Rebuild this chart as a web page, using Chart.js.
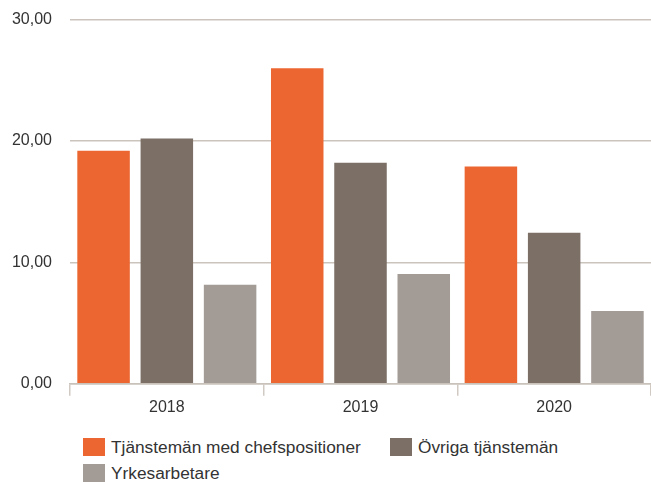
<!DOCTYPE html>
<html>
<head>
<meta charset="utf-8">
<script src="https://cdn.jsdelivr.net/npm/chart.js@4/dist/chart.umd.min.js"></script>
<style>
  body { margin: 0; background: #fff; font-family: "Liberation Sans", Arial, sans-serif; }
  #wrap { position: relative; width: 651px; height: 482px; overflow: hidden; }
  #box { position: absolute; left: 0; top: -8px; width: 651px; height: 429px; }
  #legend { position: absolute; left: 83px; top: 438px; width: 560px; font-size: 17.3px; color: #333; }
  .item { position: absolute; display: flex; align-items: center; white-space: nowrap; height: 18px; }
  .sw { width: 22px; height: 18px; margin-right: 6px; }
</style>
</head>
<body>
<div id="wrap">
  <div id="box"><canvas id="chart"></canvas></div>
  <div id="legend"></div>
</div>
<script>
const years = ["2018", "2019", "2020"];
const seriesNames = ["Tjänstemän med chefspositioner", "Övriga tjänstemän", "Yrkesarbetare"];
const chefer = [19.2, 26.0, 17.9];
const ovriga = [20.2, 18.2, 12.45];
const yrkes = [8.15, 9.05, 6.0];
const colors = ["#EC6631", "#7B6F66", "#A39B96"];

const values = [chefer, ovriga, yrkes];

const datasets = seriesNames.map((name, i) => ({
  label: name,
  data: values[i],
  backgroundColor: colors[i],
  categoryPercentage: 0.98,
  barPercentage: 0.83,
}));

// legend as html, two rows like the original
const legend = document.getElementById("legend");
const spots = [[0, 0], [307, 0], [0, 26]];
seriesNames.forEach((name, i) => {
  const el = document.createElement("div");
  el.className = "item";
  el.style.left = spots[i][0] + "px";
  el.style.top = spots[i][1] + "px";
  el.innerHTML = `<span class="sw" style="background:${colors[i]}"></span><span>${name}</span>`;
  legend.appendChild(el);
});

new Chart(document.getElementById("chart"), {
  type: "bar",
  data: { labels: years, datasets: datasets },
  options: {
    responsive: true,
    maintainAspectRatio: false,
    animation: false,
    layout: { padding: { top: 2, left: 10, right: 0, bottom: 2 } },
    plugins: { legend: { display: false }, tooltip: { enabled: false } },
    scales: {
      x: {
        offset: true,
        border: { display: true, color: "#C9C2BB", width: 1.5 },
        grid: { offset: true, drawOnChartArea: false, drawTicks: true, tickLength: 12, color: "#D0CAC3", lineWidth: 1.5 },
        ticks: { color: "#333", padding: 2, font: { family: "Liberation Sans", size: 16 } },
      },
      y: {
        min: 0,
        max: 30,
        border: { display: false },
        grid: { color: "#CBC4BD", lineWidth: 1.5, drawTicks: false },
        ticks: {
          stepSize: 10,
          color: "#333",
          padding: 18,
          font: { family: "Liberation Sans", size: 16 },
          callback: (v) => v.toFixed(2).replace(".", ","),
        },
        afterFit: (scale) => { scale.width = 60; },
      },
    },
  },
});
</script>
</body>
</html>
